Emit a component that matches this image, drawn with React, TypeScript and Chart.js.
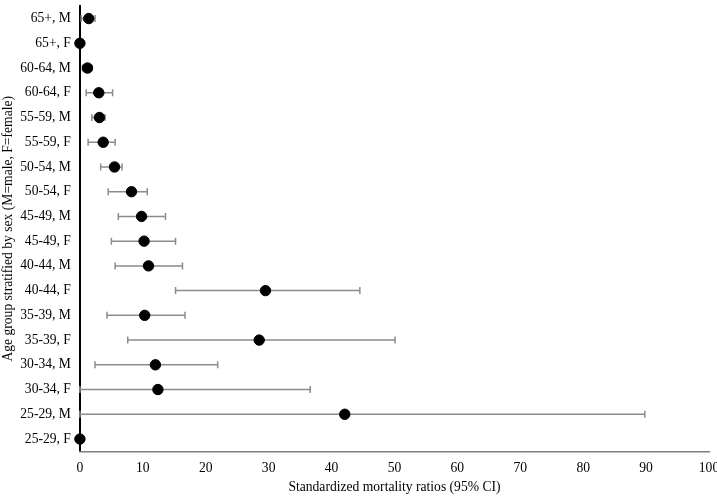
import React, { useEffect, useRef } from "react";
import { Chart, registerables } from "chart.js";

Chart.register(...registerables);

const categories = [
  "65+, M", "65+, F", "60-64, M", "60-64, F", "55-59, M", "55-59, F",
  "50-54, M", "50-54, F", "45-49, M", "45-49, F", "40-44, M", "40-44, F",
  "35-39, M", "35-39, F", "30-34, M", "30-34, F", "25-29, M", "25-29, F",
];
const smr = [1.4, 0, 1.2, 3.0, 3.1, 3.7, 5.5, 8.2, 9.8, 10.2, 10.9, 29.5, 10.3, 28.5, 12.0, 12.4, 42.1, 0];
const ciLower = [0.2, 0, 0.4, 1.0, 1.9, 1.3, 3.3, 4.5, 6.1, 5.0, 5.6, 15.2, 4.3, 7.6, 2.4, 0, 0, 0];
const ciUpper = [2.4, 0, 1.9, 5.2, 4.0, 5.6, 6.7, 10.7, 13.6, 15.2, 16.3, 44.5, 16.7, 50.1, 21.9, 36.6, 89.8, 0];
const xTickStep = 10;
const xMin = 0;
const xMax = 100;

const FONT = "'Liberation Serif', 'Times New Roman', serif";

const errorBarPlugin = {
  id: "errorBars",
  beforeDatasetsDraw(chart: any) {
    const ctx = chart.ctx;
    const xs = chart.scales.x;
    const ys = chart.scales.y;
    ctx.save();
    ctx.strokeStyle = "#8c8c8c";
    ctx.lineWidth = 1.5;
    for (let i = 0; i < categories.length; i++) {
      if (ciUpper[i] - ciLower[i] <= 0) continue;
      const y = ys.getPixelForValue(i);
      const x1 = xs.getPixelForValue(ciLower[i]);
      const x2 = xs.getPixelForValue(ciUpper[i]);
      ctx.beginPath();
      ctx.moveTo(x1, y);
      ctx.lineTo(x2, y);
      ctx.moveTo(x1, y - 3.5);
      ctx.lineTo(x1, y + 3.5);
      ctx.moveTo(x2, y - 3.5);
      ctx.lineTo(x2, y + 3.5);
      ctx.stroke();
    }
    ctx.restore();
  },
};

export default function App() {
  const ref = useRef<HTMLCanvasElement | null>(null);
  useEffect(() => {
    document.body.style.margin = "0";
    const chart = new Chart(ref.current as HTMLCanvasElement, {
      type: "line",
      data: {
        labels: categories,
        datasets: [
          {
            data: smr,
            showLine: false,
            pointRadius: 5.2,
            pointHoverRadius: 5.2,
            pointBorderWidth: 1,
            pointBackgroundColor: "#000",
            pointBorderColor: "#000",
            borderColor: "#000",
            clip: false as any,
          },
        ],
      },
      options: {
        indexAxis: "y",
        animation: false,
        responsive: false,
        maintainAspectRatio: false,
        layout: { padding: { top: 0, right: 0, bottom: 0, left: 0 } },
        plugins: { legend: { display: false }, tooltip: { enabled: false } },
        scales: {
          y: {
            type: "category",
            offset: true,
            grid: { display: false, drawTicks: false },
            border: { display: true, color: "#000", width: 2 },
            ticks: { color: "#000", font: { family: FONT, size: 13.6 }, padding: 9 },
            afterFit: (scale: any) => {
              scale.paddingTop = 0;
              scale.paddingBottom = 0;
            },
            title: {
              display: true,
              text: "Age group stratified by sex (M=male, F=female)",
              color: "#000",
              font: { family: FONT, size: 13.6 },
              padding: { top: 0, bottom: -5 },
            },
          },
          x: {
            type: "linear",
            min: xMin,
            max: xMax,
            grid: { display: false, drawTicks: false },
            border: { display: true, color: "#7f7f7f", width: 1.5 },
            ticks: { stepSize: xTickStep, color: "#000", font: { family: FONT, size: 13.6 }, padding: 9 },
            afterFit: (scale: any) => {
              scale.paddingRight = 8;
            },
            title: {
              display: true,
              text: "Standardized mortality ratios (95% CI)",
              color: "#000",
              font: { family: FONT, size: 13.6 },
              padding: { top: -6, bottom: 0 },
            },
          },
        },
      },
      plugins: [errorBarPlugin],
    });
    return () => chart.destroy();
  }, []);
  return (
    <div style={{ width: 717, height: 496, background: "#fff" }}>
      <canvas ref={ref} width={717} height={496} style={{ display: "block" }} />
    </div>
  );
}
